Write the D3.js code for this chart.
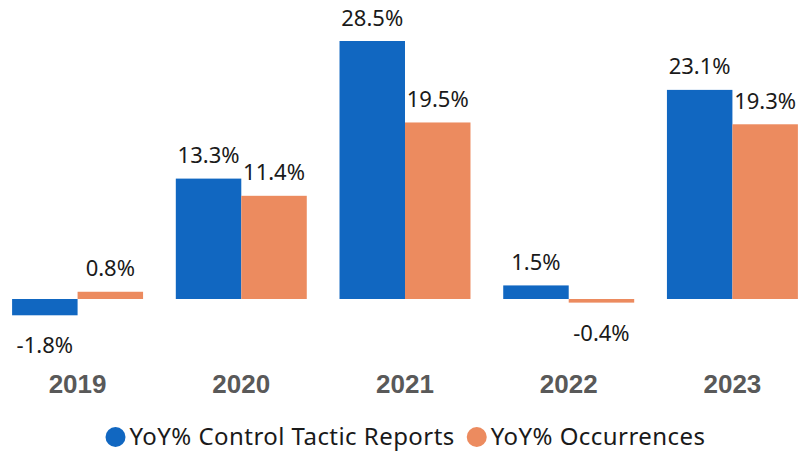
<!DOCTYPE html>
<html>
<head>
<meta charset="utf-8">
<script src="https://cdn.jsdelivr.net/npm/d3@7"></script>
<style>
  html, body { margin: 0; padding: 0; background: #fff; }
  svg { display: block; }
</style>
</head>
<body>
<svg id="chart" width="811" height="452"></svg>
<script>
const years = ["2019", "2020", "2021", "2022", "2023"];
const seriesNames = ["YoY% Control Tactic Reports", "YoY% Occurrences"];
const controlTactic = [-1.8, 13.3, 28.5, 1.5, 23.1];
const occurrences = [0.8, 11.4, 19.5, -0.4, 19.3];
const colors = ["#1167C1", "#EC8B5F"];

const width = 811;
const height = 452;
const svg = d3.select("svg#chart");

const rows = years.map((yr, i) => ({year: yr, values: [controlTactic[i], occurrences[i]]}));

const x = d3.scaleBand()
  .domain(years)
  .range([-1, width])
  .paddingInner(0.2)
  .paddingOuter(0.08);

const xs = d3.scaleBand()
  .domain([0, 1])
  .range([0, x.bandwidth()]);

// baseline at 299px, ~9.05px per percent
const y = d3.scaleLinear()
  .domain([0, 28.5])
  .range([299, 41]);

const fmt = v => v.toFixed(1) + "%";

const groups = svg.append("g").attr("id", "bars")
  .selectAll("g")
  .data(rows)
  .join("g")
    .attr("transform", d => `translate(${x(d.year)},0)`);

groups.selectAll("rect")
  .data(d => d.values.map((v, k) => ({v, k})))
  .join("rect")
    .attr("x", d => xs(d.k))
    .attr("width", xs.bandwidth())
    .attr("y", d => d.v >= 0 ? y(d.v) : y(0))
    .attr("height", d => Math.abs(y(d.v) - y(0)))
    .attr("fill", d => colors[d.k]);

groups.selectAll("text")
  .data(d => d.values.map((v, k) => ({v, k})))
  .join("text")
    .attr("x", d => xs(d.k) + xs.bandwidth() / 2)
    .attr("y", d => d.v >= 0 ? y(d.v) - 15.5 : y(d.v) + 38)
    .attr("text-anchor", "middle")
    .attr("font-family", "'Noto Sans', 'Open Sans', sans-serif")
    .attr("font-size", 22)
    .attr("fill", "#1a1a1a")
    .text(d => fmt(d.v));

// year axis labels
svg.append("g").attr("id", "years")
  .selectAll("text")
  .data(years)
  .join("text")
    .attr("x", d => x(d) + x.bandwidth() / 2)
    .attr("y", 393)
    .attr("text-anchor", "middle")
    .attr("font-family", "'Liberation Sans', Arial, sans-serif")
    .attr("font-weight", "bold")
    .attr("font-size", 26)
    .attr("fill", "#595959")
    .text(d => d);

// legend
const legend = svg.append("g").attr("id", "legend");
const items = legend.selectAll("g")
  .data(seriesNames)
  .join("g");
items.append("circle")
  .attr("r", 10)
  .attr("cy", 437)
  .attr("fill", (d, i) => colors[i]);
items.append("text")
  .attr("x", 14)
  .attr("y", 445)
  .attr("font-family", "'Noto Sans', 'Open Sans', sans-serif")
  .attr("font-size", 24)
  .attr("letter-spacing", 0.45)
  .attr("fill", "#1a1a1a")
  .text(d => d);

// lay out legend items side by side, centred
const gap = 12;
const widths = [];
items.each(function () {
  widths.push(this.getBBox().width);
});
const total = d3.sum(widths) + gap * (widths.length - 1);
let lx = (width - total) / 2 + 10;
items.attr("transform", (d, i) => {
  const t = `translate(${lx},0)`;
  lx += widths[i] + gap;
  return t;
});
</script>
</body>
</html>
